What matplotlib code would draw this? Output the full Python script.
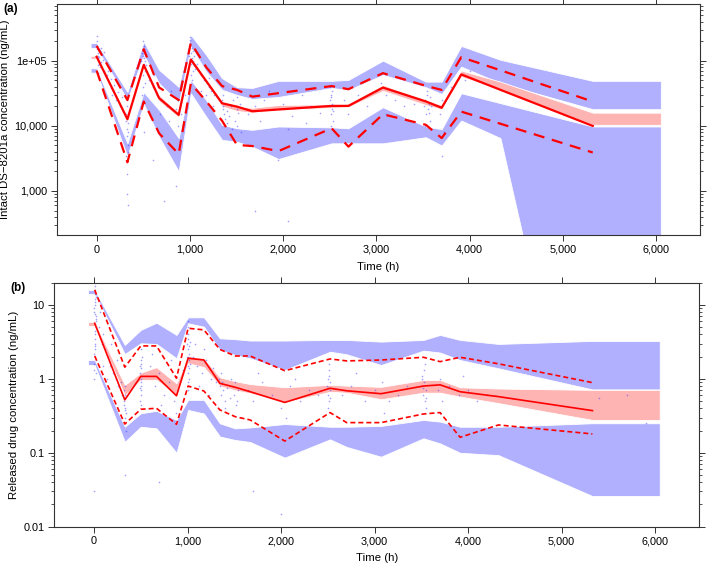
import matplotlib
matplotlib.use("Agg")
import matplotlib.pyplot as plt
import numpy as np
from matplotlib.ticker import FixedLocator, LogLocator, NullFormatter

plt.rcParams['font.family'] = ['Liberation Sans', 'DejaVu Sans']

# ---------------- Panel (a): intact DS-8201a ----------------
time_a = [0, 330, 505, 670, 880, 1010, 1175, 1345, 1505, 1670, 1950, 2520, 2700, 3070, 3530, 3700, 3910, 4330, 5320]
obs_med_a = [116000, 12700, 86700, 26700, 14800, 105000, 49000, 22300, 19800, 16800, 17900, 20300, 20300, 38900, 23800, 19000, 62000, 35900, 10000]
obs_p95_a = [170000, 25000, 151000, 39000, 25000, 190000, 80000, 41000, 35800, 28200, 31900, 41000, 36700, 64800, 41400, 35800, 114000, 71800, 23700]
obs_p05_a = [71000, 2760, 23700, 7700, 3700, 45000, 24000, 12000, 5100, 4900, 4100, 9200, 4800, 15100, 10400, 6500, 16600, 10800, 3900]
ci95_hi_a = [189000, 33400, 198000, 72800, 39800, 251000, 124000, 54200, 39400, 38400, 49300, 49300, 51000, 101000, 48000, 48000, 170000, 104000, 49300]
ci95_lo_a = [158000, 25100, 124000, 45400, 22600, 166000, 68500, 36000, 30000, 26000, 27900, 38400, 35800, 60900, 39400, 31000, 81600, 45400, 18100]
ci50_hi_a = [119000, 13500, 95000, 30000, 16000, 115000, 52000, 24000, 20000, 19000, 21000, 21500, 22000, 42600, 25000, 21000, 71000, 48000, 16000]
ci50_lo_a = [108000, 11500, 80000, 24000, 13500, 95000, 44000, 20000, 17000, 16000, 17600, 19000, 19500, 34700, 21000, 18000, 57000, 36000, 10400]
ci05_hi_a = [77000, 5400, 33000, 17600, 6500, 51000, 25000, 10400, 9200, 8700, 9800, 9500, 9200, 19400, 9800, 8900, 31800, 22400, 9800]
ci05_lo_a = [66000, 3400, 21800, 6800, 2000, 31800, 13900, 6100, 5700, 4800, 3100, 5400, 5400, 5400, 6700, 5000, 12100, 6500, 0.004]

pts_t_a = [0, 5, 10, 15, 20, 25, 30, 35, 40, 50, 60, 70, 75, 80, 2, 8, 12, 18, 30, 45,
           110, 130, 150, 170, 190, 210, 230, 250, 270, 150, 180, 120,
           315, 320, 325, 330, 335, 340, 328, 318, 332, 338, 325, 330, 335, 322, 340,
           480, 490, 495, 500, 505, 510, 515, 520, 500, 505, 495, 510, 485, 520, 530, 500, 512,
           560, 600, 650, 700, 750, 800, 850, 900, 620, 680, 780, 870, 950, 600, 720, 850,
           990, 995, 1000, 1005, 1010, 1015, 1020, 1025, 1030, 1035, 1040, 1045, 1000, 1010, 1020, 1005, 1030, 1050,
           1080, 1100, 1120, 1150, 1180, 1200, 1230, 1260, 1290, 1120, 1170, 1210, 1250,
           1340, 1350, 1360, 1370, 1380, 1400, 1420, 1440, 1460, 1480, 1500, 1510, 1520, 1540, 1550, 1360, 1400, 1450, 1500, 1380,
           1620, 1700, 1800, 1900, 2000, 2100, 2200, 2300, 2400, 1750, 1850, 2050, 2250, 1950, 1700, 2050,
           2500, 2505, 2510, 2515, 2520, 2525, 2530, 2520, 2510, 2500, 2515, 2530,
           2650, 2800, 2900, 3000, 3050, 3100, 3200, 3300, 3400, 2700, 3100, 2800,
           3510, 3520, 3530, 3540, 3550, 3560, 3570, 3580, 3540, 3560, 3520, 3590,
           3680, 3700, 3720, 3800, 3900, 3950, 4000, 3700]
pts_c_a = [170000, 150000, 130000, 120000, 110000, 100000, 90000, 140000, 80000, 95000, 125000, 105000, 70000, 135000, 240000, 200000, 85000, 65000, 115000, 160000,
           60000, 45000, 38000, 30000, 42000, 25000, 33000, 20000, 28000, 52000, 35000, 70000,
           15000, 12000, 9000, 7000, 11000, 5000, 20000, 3500, 14000, 8000, 1800, 900, 600, 25000, 4000,
           100000, 130000, 80000, 60000, 150000, 110000, 70000, 45000, 40000, 90000, 120000, 170000, 30000, 100000, 85000, 200000, 8000,
           50000, 40000, 30000, 25000, 20000, 35000, 18000, 15000, 60000, 15000, 12000, 10000, 30000, 3000, 700, 1200,
           120000, 150000, 180000, 100000, 130000, 90000, 160000, 110000, 70000, 140000, 85000, 120000, 210000, 60000, 50000, 230000, 100000, 75000,
           90000, 70000, 60000, 50000, 45000, 40000, 35000, 30000, 28000, 35000, 30000, 55000, 20000,
           25000, 20000, 18000, 15000, 22000, 17000, 14000, 20000, 25000, 12000, 18000, 10000, 16000, 22000, 8000, 30000, 11000, 9000, 28000, 13000,
           15000, 20000, 25000, 18000, 22000, 14000, 30000, 20000, 16000, 12000, 35000, 9000, 11000, 3000, 500, 350,
           20000, 25000, 15000, 30000, 18000, 35000, 12000, 22000, 28000, 40000, 10000, 17000,
           25000, 30000, 20000, 35000, 45000, 30000, 25000, 20000, 22000, 15000, 15000, 7000,
           20000, 25000, 15000, 30000, 18000, 22000, 12000, 28000, 35000, 16000, 10000, 20000,
           15000, 25000, 8000, 40000, 60000, 50000, 70000, 3500]

# ---------------- Panel (b): released drug ----------------
time_b = [7, 329, 500, 668, 882, 1006, 1175, 1346, 1510, 1670, 2040, 2524, 2702, 3070, 3523, 3701, 3915, 4325, 5330]
obs_med_b = [5.65, 0.52, 1.08, 1.08, 0.59, 1.90, 1.80, 0.87, 0.77, 0.67, 0.48, 0.746, 0.69, 0.63, 0.80, 0.83, 0.67, 0.575, 0.372]
obs_p95_b = [16, 1.44, 2.79, 2.79, 1.02, 4.84, 4.6, 2.5, 2.04, 2.04, 1.29, 1.86, 1.75, 1.8, 1.96, 1.71, 1.96, 1.6, 0.89]
obs_p05_b = [2.04, 0.245, 0.388, 0.40, 0.243, 0.80, 0.685, 0.38, 0.308, 0.278, 0.144, 0.35, 0.256, 0.256, 0.335, 0.35, 0.162, 0.238, 0.18]
ci95_hi_b = [15.9, 2.88, 4.6, 5.75, 3.93, 6.8, 6.8, 3.54, 3.44, 3.3, 3.3, 3.36, 3.36, 3.19, 3.36, 3.93, 3.36, 2.97, 3.26]
ci95_lo_b = [14.1, 2.17, 3.03, 2.97, 1.9, 5.65, 5.08, 2.46, 2.1, 1.9, 1.32, 2.33, 2.15, 1.54, 2.41, 2.27, 1.80, 1.39, 0.72]
ci50_hi_b = [5.9, 0.83, 1.21, 1.44, 0.87, 2.04, 1.9, 1.05, 0.93, 0.85, 0.77, 0.83, 0.81, 0.78, 0.966, 0.966, 0.77, 0.74, 0.71]
ci50_lo_b = [5.2, 0.6, 0.966, 0.966, 0.605, 1.63, 1.44, 0.8, 0.7, 0.64, 0.48, 0.67, 0.65, 0.53, 0.65, 0.65, 0.575, 0.47, 0.278]
ci05_hi_b = [1.80, 0.225, 0.342, 0.37, 0.278, 0.52, 0.52, 0.25, 0.214, 0.22, 0.245, 0.225, 0.225, 0.231, 0.278, 0.264, 0.225, 0.225, 0.251]
ci05_lo_b = [1.54, 0.141, 0.225, 0.214, 0.10, 0.38, 0.34, 0.166, 0.149, 0.14, 0.086, 0.152, 0.12, 0.0885, 0.157, 0.134, 0.10, 0.093, 0.026]

pts_t_b = [0, 2, 4, 6, 8, 10, 12, 14, 16, 18, 20, 1, 3, 5, 7, 9, 11, 13, 15, 17, 19, 0, 5, 10, 15, 20, 8, 12, 16, 2,
           50, 80, 100, 120, 150, 170, 200, 230, 260, 290, 60, 140, 180, 250, 300, 100,
           320, 325, 330, 335, 328, 332, 338, 322, 330, 340, 326, 334, 330,
           490, 495, 500, 502, 505, 498, 510, 500, 495, 505, 500, 508, 492, 503, 497, 506,
           600, 650, 700, 750, 800, 850, 900, 950, 620, 720, 820, 880, 700,
           990, 995, 1000, 1002, 1005, 1008, 1010, 1012, 1015, 1018, 1020, 1003, 1007, 1013, 1016, 1000, 1022, 1025, 1010, 1005,
           1060, 1100, 1150, 1200, 1250, 1300, 1080, 1120, 1180, 1230, 1270,
           1340, 1350, 1360, 1370, 1380, 1400, 1420, 1450, 1480, 1500, 1520, 1540, 1360, 1400, 1460, 1510, 1530,
           1650, 1700, 1800, 1900, 2000, 2100, 2200, 2300, 2400, 1750, 2050, 2150, 1700, 2000,
           2495, 2500, 2505, 2510, 2515, 2520, 2525, 2500, 2510, 2520, 2505, 2515,
           2650, 2750, 2900, 3000, 3080, 3150, 3250, 3350, 2800, 3100,
           3500, 3510, 3520, 3530, 3540, 3550, 3525, 3535, 3545, 3515, 3505, 3555,
           3680, 3700, 3720, 3800, 3900, 4000, 4100, 4200, 3700, 3950,
           5400, 5700, 5900]
pts_c_b = [1.0, 1.3, 1.6, 2, 2.5, 3, 3.5, 4, 5, 6, 7, 8, 9, 10, 12, 14, 16, 18, 20, 1.2, 1.8, 2.2, 2.8, 4.5, 5.5, 6.5, 7.5, 11, 13, 0.03,
           5, 3, 4, 2.5, 2, 1.5, 1.2, 1, 0.8, 0.9, 8, 1, 3, 1.8, 0.6, 1.5,
           0.7, 0.5, 0.4, 0.3, 0.6, 0.25, 0.35, 0.45, 0.8, 0.2, 0.55, 0.38, 0.05,
           1.5, 1.2, 1, 0.8, 0.7, 0.6, 2, 1.8, 0.5, 0.9, 1.4, 1.1, 0.75, 2.5, 0.45, 1.6,
           1.5, 0.8, 1.2, 0.6, 0.9, 0.5, 0.7, 1.3, 2.2, 0.45, 1.8, 0.35, 0.04,
           2, 3, 4, 2.5, 1.5, 1.2, 3.5, 1.8, 1, 2.2, 0.8, 5, 6, 1.4, 2.8, 0.9, 1.6, 3.2, 0.7, 2,
           2, 1.5, 1.2, 1.8, 1, 0.9, 3, 0.8, 2.5, 0.6, 1.4,
           1, 0.8, 0.6, 0.9, 0.7, 0.5, 0.75, 0.55, 0.8, 0.6, 0.45, 0.7, 1.2, 0.4, 1, 0.9, 0.5,
           0.7, 0.5, 0.9, 0.6, 0.4, 0.8, 0.5, 0.7, 0.6, 1.2, 0.3, 1, 0.03, 0.015,
           0.8, 1, 0.6, 1.3, 0.5, 0.7, 0.9, 0.4, 1.6, 0.55, 0.75, 1.1,
           0.6, 0.8, 0.5, 0.7, 0.9, 0.5, 0.6, 0.8, 1.2, 0.35,
           0.8, 1, 0.6, 1.3, 0.5, 0.7, 0.9, 1.6, 0.4, 0.75, 1.1, 0.55,
           0.7, 1, 0.5, 0.8, 0.6, 0.7, 0.5, 0.6, 0.35, 1.1,
           0.55, 0.6, 0.25]

band_start = -65
band_end = 6050

BLUE = '#B0B0FF'
PINK = '#FFB4B4'
RED = '#FF0000'
AXC = '#333333'


def ext(vals):
    return [vals[0]] + list(vals) + [vals[-1]]


def draw_panel(ax, t, med, p95, p05, bands, pts_t, pts_c, dash, lw):
    tb = [band_start] + list(t) + [band_end]
    cols = [BLUE, PINK, BLUE]
    for (lo, hi), c in zip(bands, cols):
        ax.fill_between(tb, ext(lo), ext(hi), color=c, linewidth=0.6, edgecolor='white', zorder=1)
    ax.plot(pts_t, pts_c, linestyle='none', marker='+', markersize=2.0, mew=0.4,
            color='#3030FF', alpha=0.45, zorder=2)
    ax.plot(t, med, color=RED, lw=lw, zorder=3)
    ax.plot(t, p95, color=RED, lw=lw, dashes=dash, zorder=3)
    ax.plot(t, p05, color=RED, lw=lw, dashes=dash, zorder=3)
    ax.set_yscale('log')
    ax.set_xlim(-425, 6470)
    xt = [0, 1000, 2000, 3000, 4000, 5000, 6000]
    ax.set_xticks(xt)
    ax.set_xticklabels(['0', '1,000', '2,000', '3,000', '4,000', '5,000', '6,000'])
    for s in ax.spines.values():
        s.set_color(AXC)
        s.set_linewidth(0.8)
    ax.tick_params(which='major', direction='out', length=4, width=0.7, color=AXC,
                   labelsize=7.8, pad=3, top=True, right=True, labeltop=False, labelright=False)
    ax.tick_params(which='minor', direction='out', length=2.2, width=0.6, color=AXC,
                   left=True, right=True, top=False, bottom=False)
    ax.yaxis.set_minor_locator(LogLocator(base=10, subs=np.arange(2, 10), numticks=20))
    ax.yaxis.set_minor_formatter(NullFormatter())


fig = plt.figure(figsize=(7.09, 5.65), dpi=100)

ax_a = fig.add_axes([57 / 709, 1 - 235 / 565, (700 - 57) / 709, (235 - 4) / 565])
draw_panel(ax_a, time_a, obs_med_a, obs_p95_a, obs_p05_a,
           [(ci95_lo_a, ci95_hi_a), (ci50_lo_a, ci50_hi_a), (ci05_lo_a, ci05_hi_a)],
           pts_t_a, pts_c_a, (5, 3.5), 1.6)
ax_a.set_ylim(210, 7.5e5)
ax_a.yaxis.set_major_locator(FixedLocator([1e3, 1e4, 1e5]))
ax_a.set_yticklabels(['1,000', '10,000', '1e+05'])
ax_a.set_ylabel('Intact DS\u22128201a concentration (ng/mL)', fontsize=8.2, labelpad=3)
ax_a.set_xlabel('Time (h)', fontsize=8.2, labelpad=5)

ax_b = fig.add_axes([54.3 / 709, 1 - 526.7 / 565, (699 - 54.3) / 709, (526.7 - 282.7) / 565])
draw_panel(ax_b, time_b, obs_med_b, obs_p95_b, obs_p05_b,
           [(ci95_lo_b, ci95_hi_b), (ci50_lo_b, ci50_hi_b), (ci05_lo_b, ci05_hi_b)],
           pts_t_b, pts_c_b, (3, 1.8), 1.2)
ax_b.set_ylim(0.01, 20)
ax_b.yaxis.set_major_locator(FixedLocator([0.01, 0.1, 1, 10]))
ax_b.set_yticklabels(['0.01', '0.1', '1', '10'])
ax_b.set_ylabel('Released drug concentration (ng/mL)', fontsize=8.2, labelpad=3)
ax_b.set_xlabel('Time (h)', fontsize=8.2, labelpad=5)

fig.text(3 / 709, 1 - 9 / 565, '(a)', fontsize=8.5, fontweight='bold', va='center', ha='left')
fig.text(10 / 709, 1 - 288 / 565, '(b)', fontsize=8.5, fontweight='bold', va='center', ha='left')

fig.savefig('out.png', dpi=100)
